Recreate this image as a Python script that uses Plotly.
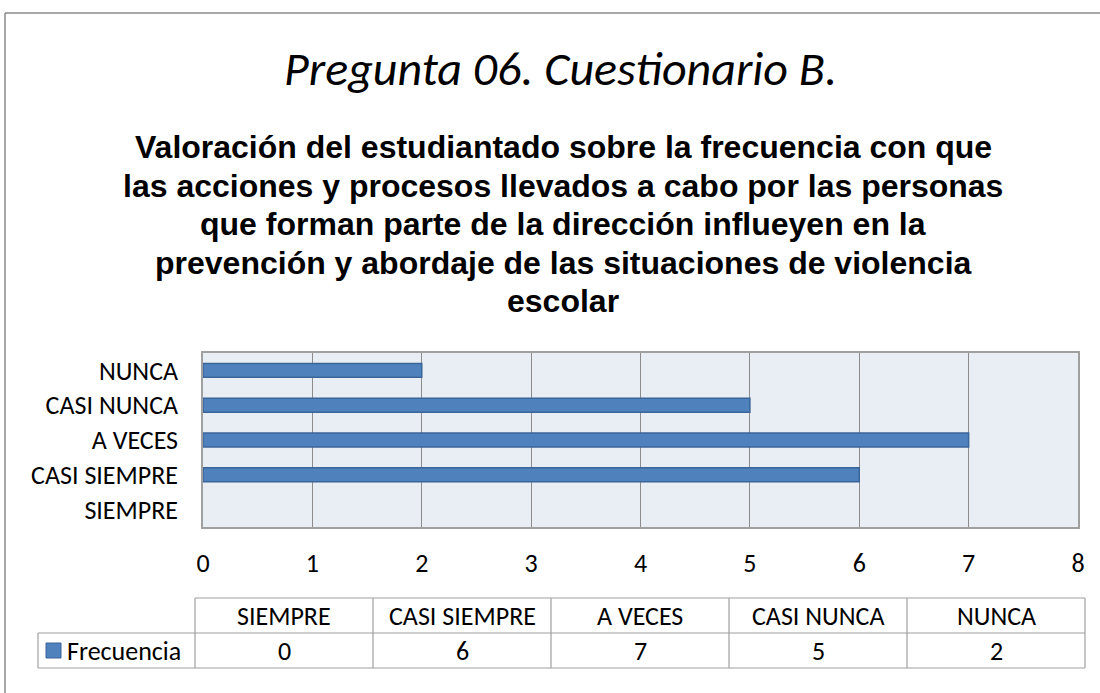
import plotly.graph_objects as go

categories = ["SIEMPRE", "CASI SIEMPRE", "A VECES", "CASI NUNCA", "NUNCA"]
values = [0, 6, 7, 5, 2]
series_name = "Frecuencia"
x_ticks = [0, 1, 2, 3, 4, 5, 6, 7, 8]
title_text = "Pregunta 06. Cuestionario B."
subtitle_lines = [
    "Valoración del estudiantado sobre la frecuencia con que",
    "las acciones y procesos llevados a cabo por las personas",
    "que forman parte de la dirección influeyen en la",
    "prevención y abordaje de las situaciones de violencia",
    "escolar",
]

FONT = "Carlito, Calibri, Lato, sans-serif"
SUB_FONT = "Liberation Sans, Arial, sans-serif"
W, H = 1100, 693
L, R, T, B = 203, 1078, 353, 527
BAR = "#4F81BD"
BAR_LINE = "#3A659A"
GRID = "#8C8C8C"
BORDER = "#A0A0A0"
TICK_SIZE = 26


def xp(px):
    return (px - L) / (R - L)


def yp(py):
    return (B - py) / (B - T)


fig = go.Figure()
fig.add_trace(go.Bar(
    y=categories, x=values, orientation="h", name=series_name,
    width=0.4,
    marker=dict(color=BAR, line=dict(color=BAR_LINE,
                                     width=[0 if v == 0 else 1.5 for v in values])),
    showlegend=False,
))

shapes = []
annotations = []

# outer chart border (left and top)
shapes.append(dict(type="line", xref="paper", yref="paper",
                   x0=xp(5), x1=xp(5), y0=yp(13), y1=yp(700),
                   line=dict(color="#8A8A8A", width=1.5)))
shapes.append(dict(type="line", xref="paper", yref="paper",
                   x0=xp(5), x1=xp(1110), y0=yp(13), y1=yp(13),
                   line=dict(color="#8A8A8A", width=1.5)))

# title
annotations.append(dict(text=title_text, xref="paper", yref="paper",
                        x=xp(560), y=yp(68), showarrow=False,
                        xanchor="center", yanchor="middle",
                        font=dict(family=FONT, size=48, color="black", style="italic")))
for i, line in enumerate(subtitle_lines):
    annotations.append(dict(text="<b>" + line + "</b>", xref="paper", yref="paper",
                            x=xp(563), y=yp(147 + i * 38.5), showarrow=False,
                            xanchor="center", yanchor="middle",
                            font=dict(family=SUB_FONT, size=32, color="black")))

# data table
col_edges = [195, 373, 551, 729, 907, 1085]
row_top, row_mid, row_bot = 598, 633, 668
tl = dict(color=BORDER, width=1.2)
shapes.append(dict(type="line", xref="paper", yref="paper",
                   x0=xp(col_edges[0]), x1=xp(col_edges[-1]), y0=yp(row_top), y1=yp(row_top), line=tl))
for yy in (row_mid, row_bot):
    shapes.append(dict(type="line", xref="paper", yref="paper",
                       x0=xp(38), x1=xp(col_edges[-1]), y0=yp(yy), y1=yp(yy), line=tl))
shapes.append(dict(type="line", xref="paper", yref="paper",
                   x0=xp(38), x1=xp(38), y0=yp(row_mid), y1=yp(row_bot), line=tl))
for cx in col_edges:
    shapes.append(dict(type="line", xref="paper", yref="paper",
                       x0=xp(cx), x1=xp(cx), y0=yp(row_top), y1=yp(row_bot), line=tl))

for i, (c, v) in enumerate(zip(categories, values)):
    cx = (col_edges[i] + col_edges[i + 1]) / 2
    annotations.append(dict(text=c, xref="paper", yref="paper",
                            x=xp(cx), y=yp((row_top + row_mid) / 2), showarrow=False,
                            xanchor="center", yanchor="middle",
                            font=dict(family=FONT, size=TICK_SIZE, color="black")))
    annotations.append(dict(text=str(v), xref="paper", yref="paper",
                            x=xp(cx), y=yp((row_mid + row_bot) / 2), showarrow=False,
                            xanchor="center", yanchor="middle",
                            font=dict(family=FONT, size=TICK_SIZE, color="black")))

# legend key
shapes.append(dict(type="rect", xref="paper", yref="paper",
                   x0=xp(46), x1=xp(61), y0=yp(643), y1=yp(658),
                   fillcolor=BAR, line=dict(color=BAR_LINE, width=1)))
annotations.append(dict(text=series_name, xref="paper", yref="paper",
                        x=xp(65), y=yp((row_mid + row_bot) / 2), showarrow=False,
                        xanchor="left", yanchor="middle",
                        font=dict(family=FONT, size=TICK_SIZE, color="black")))

fig.update_layout(
    width=W, height=H,
    margin=dict(l=L, r=W - R, t=T, b=H - B, pad=0),
    paper_bgcolor="white",
    plot_bgcolor="#E9EDF4",
    shapes=shapes,
    annotations=annotations,
    font=dict(family=FONT, size=TICK_SIZE, color="black"),
)
fig.update_xaxes(
    range=[0, 8], tickvals=x_ticks, ticktext=[str(t) for t in x_ticks],
    showgrid=True, gridcolor=GRID, gridwidth=1.2,
    zeroline=False, showline=True, linecolor=BORDER, linewidth=1.5, mirror=True,
    ticks="", ticklabelstandoff=12,
    tickfont=dict(family=FONT, size=TICK_SIZE, color="black"),
    fixedrange=True,
)
fig.update_yaxes(
    categoryorder="array", categoryarray=categories,
    range=[-0.5, 4.5],
    showgrid=False, zeroline=False,
    showline=True, linecolor=BORDER, linewidth=1.5, mirror=True,
    ticks="", ticklabelstandoff=18,
    tickfont=dict(family=FONT, size=TICK_SIZE, color="black"),
    fixedrange=True,
)

fig.write_html(
    "out.html",
    config={"displayModeBar": False},
    post_script="document.body.style.margin='0';document.body.style.overflow='hidden';",
)
